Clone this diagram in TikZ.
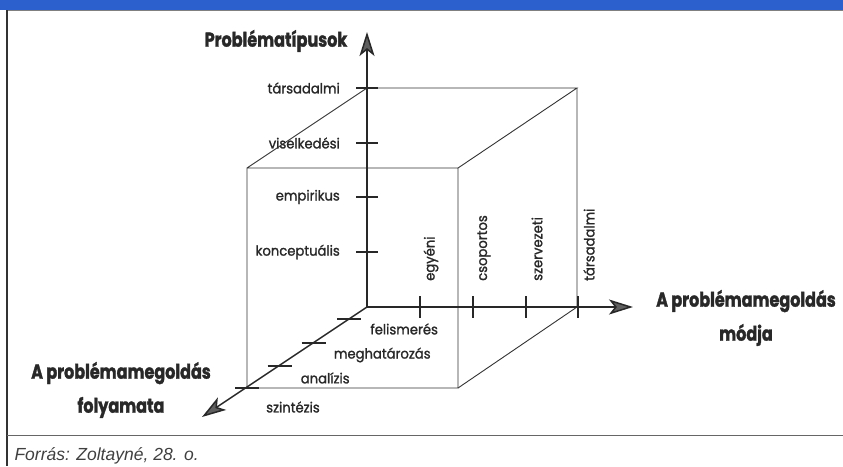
\documentclass[tikz,border=0pt]{standalone}
\usepackage{fontspec}
\usepackage{tikz}
\usetikzlibrary{arrows.meta,positioning,calc}
\setmainfont{Poppins}[FakeStretch=0.94,FakeBold=1.3]
\newfontfamily\titlefont[FakeStretch=0.8,FakeBold=1.6]{Poppins}
\newfontfamily\srcfont{Liberation Sans}
\definecolor{headblue}{RGB}{44,96,204}
\definecolor{inkgray}{RGB}{40,40,40}
\definecolor{tipgray}{RGB}{95,95,95}

\begin{document}
\begin{tikzpicture}[
  x=1pt,
  y=-1pt,
  axis/.style={
    line width=1.5pt,
    inkgray,
    -{Stealth[length=24pt,width=15pt,inset=6pt,fill=tipgray]}
  },
  edge/.style={
    line width=.9pt,
    black!80
  },
  tick/.style={
    line width=1.1pt,
    inkgray
  },
  lab/.style={
    font=\fontsize{14}{16}\selectfont,
    text=inkgray,
    inner sep=0pt
  },
  title/.style={
    font=\titlefont\bfseries\fontsize{20}{34}\selectfont,
    text=inkgray,
    align=center
  }
]
\useasboundingbox (0,0) rectangle (843,466);

% Frame
\fill[headblue] (0,0) rectangle (843,10);
\draw[black!50,line width=.6pt] (7,10.5) -- (843,10.5);
\draw[black!80,line width=1.2pt] (7,10) -- (7,466);
\draw[black!60,line width=.8pt] (7,435) -- (843,435);

% Cube corners
\coordinate (O) at (367,307);
\coordinate (A) at (367,88);
\coordinate (B) at (577,88);
\coordinate (C) at (247,168);
\coordinate (D) at (458,168);
\coordinate (E) at (247,388);
\coordinate (F) at (458,388);
\coordinate (G) at (577,307);
\coordinate (ytip) at (367,32);
\coordinate (xtip) at (633,307);
\coordinate (ztip) at (202,417);

% Cube edges
\draw[edge] (C) -- (A) -- (B) -- (D) -- (C) -- (E) -- (F) -- (D);
\draw[edge] (B) -- (G) -- (F);

% Axes
\draw[axis] (O) -- (ytip);
\draw[axis] (O) -- (xtip);
\draw[axis] (O) -- (ztip);

% Problem types
\foreach \yy/\txt/\nm in {252/konceptuális/k,197/empirikus/e,143/viselkedési/v,88/társadalmi/t}{
  \draw[tick] (356,\yy) -- (378,\yy);
  \node[lab,anchor=east] (pt-\nm) at (340,\yy) {\txt};
}

% Ways of solving
\foreach \xx/\txt/\nm in {420/egyéni/e,473/csoportos/c,526/szervezeti/s,578/társadalmi/t}{
  \draw[tick] (\xx,296) -- (\xx,318);
  \node[lab,rotate=90,anchor=west] (md-\nm) at (\xx+11,281) {\txt};
}

% Process steps
\foreach \t/\txt/\nm/\dx/\dy in {.148/felismerés/f/21/10,.444/meghatározás/m/20/12,.728/analízis/a/21/12,1/szintézis/s/19/19}{
  \coordinate (st-\nm) at ($(O)!\t!(E)$);
  \draw[tick] ($(st-\nm)+(-12,0)$) -- ($(st-\nm)+(12,0)$);
  \node[lab,anchor=west] (sl-\nm) at ($(st-\nm)+(\dx,\dy)$) {\txt};
}

% Axis titles
\node[title] (ttype) at (276,41) {Problématípusok};
\node[title] (tmode) at (746,318) {A problémamegoldás\\módja};
\node[title] (tproc) at (121,390) {A problémamegoldás\\folyamata};

% Source
\node[font=\srcfont\itshape\fontsize{17.5}{20}\selectfont,text=black!75,anchor=west] (src) at (11,456) {Forrás: Zoltayné, 28. o.};

\end{tikzpicture}
\end{document}
